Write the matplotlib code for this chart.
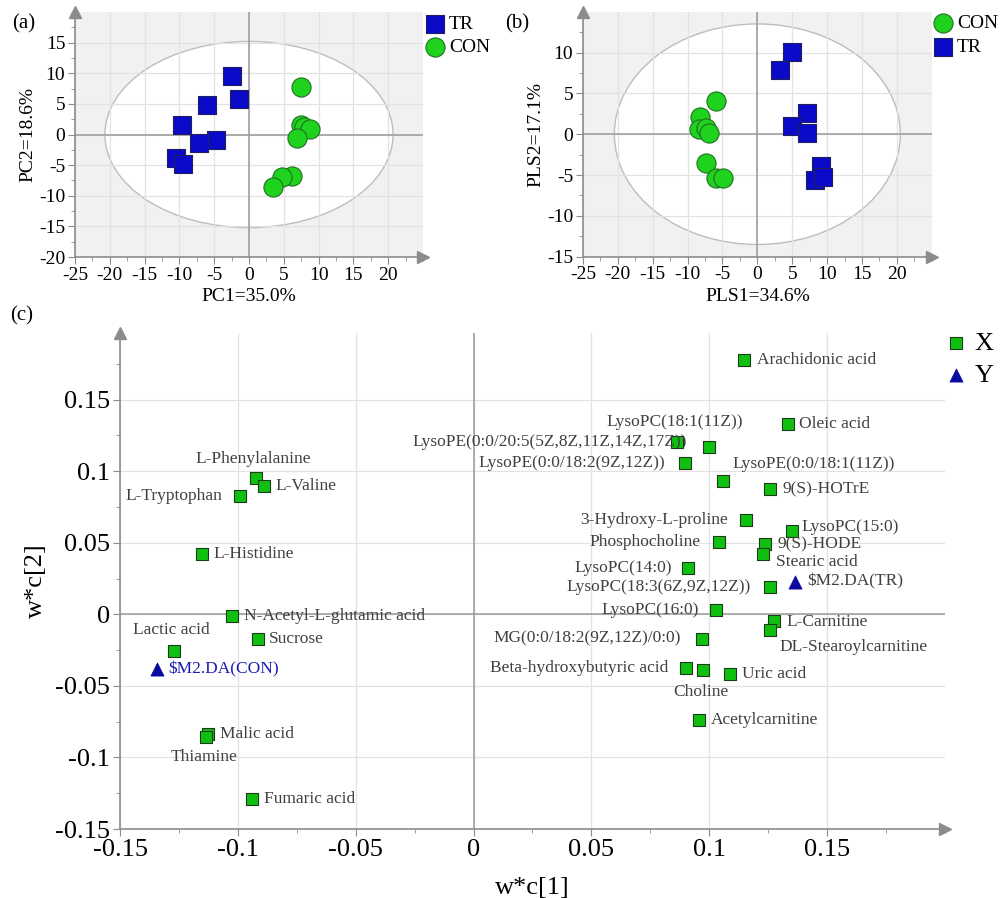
import numpy as np
import matplotlib
matplotlib.use('Agg')
from matplotlib import pyplot as plt
from matplotlib.patches import Ellipse
from matplotlib.ticker import MultipleLocator, FuncFormatter

plt.rcParams['font.family'] = ['Liberation Serif', 'DejaVu Serif']
plt.rcParams['axes.unicode_minus'] = False

# (a) PCA scores
pca_tr_x = [-2.5, -1.5, -6.1, -9.6, -4.7, -7.2, -10.5, -9.5]
pca_tr_y = [9.6, 5.8, 4.9, 1.5, -0.9, -1.4, -3.9, -4.8]
pca_con_x = [7.4, 7.5, 7.9, 8.8, 6.9, 6.2, 4.7, 3.5]
pca_con_y = [7.8, 1.6, 1.3, 0.9, -0.5, -6.8, -6.9, -8.5]

# (b) PLS-DA scores
pls_con_x = [-6.0, -8.2, -8.4, -7.3, -6.9, -7.3, -5.9, -4.9]
pls_con_y = [4.1, 2.1, 0.6, 0.8, 0.2, -3.5, -5.4, -5.4]
pls_tr_x = [5.0, 3.2, 7.1, 4.9, 7.1, 9.1, 8.2, 9.4]
pls_tr_y = [10.1, 7.8, 2.6, 1.0, 0.2, -3.9, -5.6, -5.2]

# (c) loadings w*c
x_names = ['Arachidonic acid', 'Oleic acid', 'LysoPC(18:1(11Z))',
           'LysoPE(0:0/20:5(5Z,8Z,11Z,14Z,17Z))', 'LysoPE(0:0/18:2(9Z,12Z))',
           'LysoPE(0:0/18:1(11Z))', '9(S)-HOTrE', '3-Hydroxy-L-proline',
           'LysoPC(15:0)', 'Phosphocholine', '9(S)-HODE', 'Stearic acid',
           'LysoPC(14:0)', 'LysoPC(18:3(6Z,9Z,12Z))', 'LysoPC(16:0)',
           'L-Carnitine', 'DL-Stearoylcarnitine', 'MG(0:0/18:2(9Z,12Z)/0:0)',
           'Beta-hydroxybutyric acid', 'Choline', 'Uric acid', 'Acetylcarnitine',
           'L-Phenylalanine', 'L-Valine', 'L-Tryptophan', 'L-Histidine',
           'N-Acetyl-L-glutamic acid', 'Sucrose', 'Lactic acid', 'Malic acid',
           'Thiamine', 'Fumaric acid']
x_wc1 = [0.1148, 0.1332, 0.1001, 0.0863, 0.0898, 0.1060, 0.1258, 0.1154,
         0.1350, 0.1041, 0.1237, 0.1230, 0.0911, 0.1256, 0.1030, 0.1275,
         0.1258, 0.0969, 0.0903, 0.0973, 0.1086, 0.0955,
         -0.0924, -0.0891, -0.0990, -0.1153, -0.1025, -0.0914, -0.1273,
         -0.1126, -0.1136, -0.0938]
x_wc2 = [0.1776, 0.1327, 0.1170, 0.1205, 0.1054, 0.0932, 0.0872, 0.0657,
         0.0583, 0.0503, 0.0490, 0.0424, 0.0326, 0.0191, 0.0028, -0.0047,
         -0.0112, -0.0170, -0.0375, -0.0392, -0.0420, -0.0741,
         0.0953, 0.0895, 0.0825, 0.0424, -0.0012, -0.0170, -0.0256,
         -0.0834, -0.0858, -0.1289]
y_names = ['$M2.DA(TR)', '$M2.DA(CON)']
y_wc1 = [0.1364, -0.1343]
y_wc2 = [0.0226, -0.0380]

# label placement: (dx px, dy px, ha)
label_pos = {
    'Arachidonic acid': (13, 0, 'left'), 'Oleic acid': (11, 0, 'left'),
    'LysoPC(18:1(11Z))': (-35, 25, 'center'),
    'LysoPE(0:0/20:5(5Z,8Z,11Z,14Z,17Z))': (10, 0, 'right'),
    'LysoPE(0:0/18:2(9Z,12Z))': (-20, 0, 'right'),
    'LysoPE(0:0/18:1(11Z))': (9, 17, 'left'), '9(S)-HOTrE': (12, 0, 'left'),
    '3-Hydroxy-L-proline': (-18, 0, 'right'), 'LysoPC(15:0)': (10, 4, 'left'),
    'Phosphocholine': (-18, 0, 'right'), '9(S)-HODE': (12, 0, 'left'),
    'Stearic acid': (13, -8, 'left'), 'LysoPC(14:0)': (-16, 0, 'right'),
    'LysoPC(18:3(6Z,9Z,12Z))': (-19, 0, 'right'),
    'LysoPC(16:0)': (-17, 0, 'right'), 'L-Carnitine': (12, -1, 'left'),
    'DL-Stearoylcarnitine': (9, -17, 'left'),
    'MG(0:0/18:2(9Z,12Z)/0:0)': (-21, 0, 'right'),
    'Beta-hydroxybutyric acid': (-18, 0, 'right'),
    'Choline': (-2, -22, 'center'), 'Uric acid': (12, 0, 'left'),
    'Acetylcarnitine': (12, 0, 'left'), 'L-Phenylalanine': (-3, 19, 'center'),
    'L-Valine': (12, 0, 'left'), 'L-Tryptophan': (-18, 0, 'right'),
    'L-Histidine': (12, 0, 'left'), 'N-Acetyl-L-glutamic acid': (12, 0, 'left'),
    'Sucrose': (11, 0, 'left'), 'Lactic acid': (-2, 21, 'center'),
    'Malic acid': (12, 0, 'left'), 'Thiamine': (-2, -20, 'center'),
    'Fumaric acid': (12, 0, 'left'),
    '$M2.DA(TR)': (12, 1, 'left'), '$M2.DA(CON)': (11, -1, 'left'),
}

AXC = '#8c8c8c'
BLUE = '#0a0ac8'
GREEN = '#1ed21e'


def style_axes(ax, fs, xmin_step, ymin_step):
    for s in ['top', 'right']:
        ax.spines[s].set_visible(False)
    for s in ['left', 'bottom']:
        ax.spines[s].set_color(AXC)
        ax.spines[s].set_linewidth(1.2)
    ax.xaxis.set_minor_locator(MultipleLocator(xmin_step))
    ax.yaxis.set_minor_locator(MultipleLocator(ymin_step))
    ax.tick_params(which='major', direction='out', length=5, color=AXC,
                   labelsize=fs, pad=2)
    ax.tick_params(which='minor', direction='out', length=3, color=AXC)
    ax.grid(True, which='major', color='#e2e2e2', lw=0.9)
    ax.set_axisbelow(True)
    ax.axhline(0, color='#9a9a9a', lw=1.1, zorder=1)
    ax.axvline(0, color='#9a9a9a', lw=1.1, zorder=1)
    # arrow heads at axis ends
    ax.plot(1, 0, '>', color=AXC, ms=8, transform=ax.transAxes, clip_on=False)
    ax.plot(0, 1, '^', color=AXC, ms=8, transform=ax.transAxes, clip_on=False)


fig = plt.figure(figsize=(10.01, 8.98), dpi=100)
fmt = FuncFormatter(lambda v, p: '%g' % round(v, 4))

# ---- (a)
ax1 = fig.add_axes([0.0749, 0.7138, 0.3477, 0.2728])
ax1.set_facecolor('#f1f1f1')
ax1.add_patch(Ellipse((0, 0), 41.4, 30.4, facecolor='white',
                      edgecolor='#bdbdbd', lw=1.0, zorder=0.2))
ax1.scatter(pca_tr_x, pca_tr_y, marker='s', s=150, color=BLUE,
            edgecolor='#202060', lw=0.8, zorder=3, label='TR')
ax1.scatter(pca_con_x, pca_con_y, marker='o', s=190, color=GREEN,
            edgecolor='#207020', lw=0.8, zorder=3, label='CON')
ax1.set_xlim(-25, 25)
ax1.set_ylim(-20, 20)
ax1.set_xticks(range(-25, 21, 5))
ax1.set_yticks(range(-20, 16, 5))
style_axes(ax1, 14, 2.5, 2.5)
ax1.set_xlabel('PC1=35.0%', fontsize=14, labelpad=3)
ax1.set_ylabel('PC2=18.6%', fontsize=14, labelpad=2)
ax1.legend(loc='upper left', bbox_to_anchor=(0.968, 1.035), frameon=False,
           fontsize=14, handletextpad=0.1, labelspacing=0.3,
           borderaxespad=0.2, handlelength=1.2)
fig.text(0.012, 0.968, '(a)', fontsize=15)

# ---- (b)
ax2 = fig.add_axes([0.5824, 0.7141, 0.3484, 0.2729])
ax2.set_facecolor('#f1f1f1')
ax2.add_patch(Ellipse((0, 0), 41.0, 27.0, facecolor='white',
                      edgecolor='#bdbdbd', lw=1.0, zorder=0.2))
ax2.scatter(pls_con_x, pls_con_y, marker='o', s=190, color=GREEN,
            edgecolor='#207020', lw=0.8, zorder=3, label='CON')
ax2.scatter(pls_tr_x, pls_tr_y, marker='s', s=150, color=BLUE,
            edgecolor='#202060', lw=0.8, zorder=3, label='TR')
ax2.set_xlim(-25, 25)
ax2.set_ylim(-15, 15)
ax2.set_xticks(range(-25, 21, 5))
ax2.set_yticks(range(-15, 11, 5))
style_axes(ax2, 14, 2.5, 2.5)
ax2.set_xlabel('PLS1=34.6%', fontsize=14, labelpad=3)
ax2.set_ylabel('PLS2=17.1%', fontsize=14, labelpad=2)
ax2.legend(loc='upper left', bbox_to_anchor=(0.966, 1.035), frameon=False,
           fontsize=14, handletextpad=0.1, labelspacing=0.3,
           borderaxespad=0.2, handlelength=1.2)
fig.text(0.505, 0.968, '(b)', fontsize=15)

# ---- (c)
ax3 = fig.add_axes([0.1199, 0.0768, 0.8241, 0.5524])
ax3.scatter(x_wc1, x_wc2, marker='s', s=85, color='#10c010',
            edgecolor='#1a3a1a', lw=0.8, zorder=3, label='X')
ax3.scatter(y_wc1, y_wc2, marker='^', s=90, color='#0a0aa0',
            edgecolor='#0a0aa0', lw=0.5, zorder=3, label='Y')
ax3.set_xlim(-0.15, 0.2)
ax3.set_ylim(-0.15, 0.1965)
ax3.set_xticks(np.arange(-0.15, 0.16, 0.05))
ax3.set_yticks(np.arange(-0.15, 0.16, 0.05))
ax3.xaxis.set_major_formatter(fmt)
ax3.yaxis.set_major_formatter(fmt)
style_axes(ax3, 19, 0.025, 0.025)
ax3.set_xlabel('w*c[1]', fontsize=19, labelpad=12)
ax3.set_ylabel('w*c[2]', fontsize=19, labelpad=6)

for n, xv, yv in zip(x_names + y_names, x_wc1 + y_wc1, x_wc2 + y_wc2):
    dx, dy, ha = label_pos[n]
    col = '#1a1ab0' if n == '$M2.DA(CON)' else '#404040'
    ax3.annotate(n, (xv, yv), xytext=(dx, dy), textcoords='offset pixels',
                 ha=ha, va='center', fontsize=12.5, color=col, zorder=4)

ax3.legend(loc='upper left', bbox_to_anchor=(0.985, 1.025), frameon=False,
           fontsize=19, handletextpad=0.2, labelspacing=0.35,
           borderaxespad=0.0, handlelength=1.0)
fig.text(0.01, 0.643, '(c)', fontsize=15)

fig.savefig('out.png', dpi=100)
